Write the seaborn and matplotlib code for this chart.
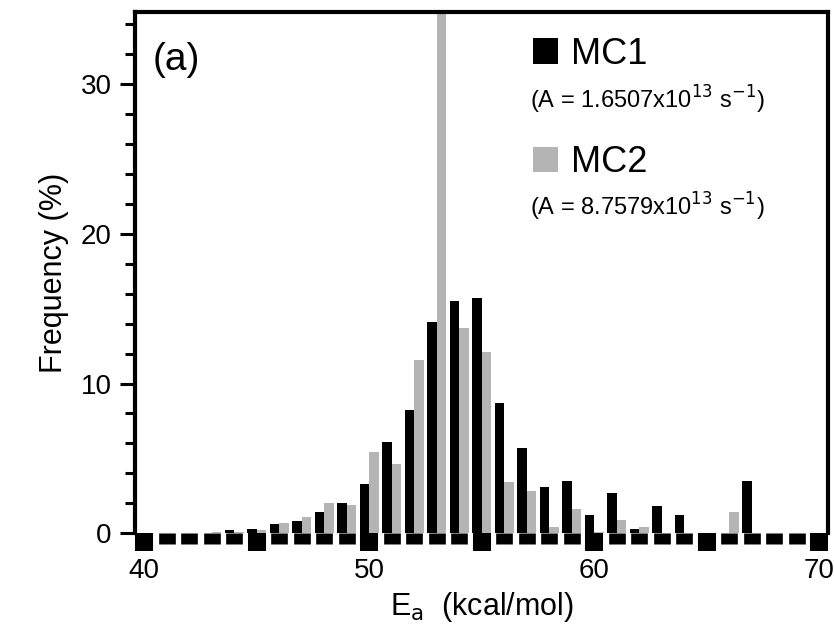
import numpy as np
import pandas as pd
import matplotlib
matplotlib.use("Agg")
import matplotlib.pyplot as plt
import matplotlib.ticker as mticker
from matplotlib.patches import Patch
import seaborn as sns

sns.set_theme(style="ticks")
plt.rcParams['font.family'] = ['Liberation Sans', 'DejaVu Sans']
plt.rcParams['text.color'] = 'black'
plt.rcParams['axes.labelcolor'] = 'black'
plt.rcParams['xtick.color'] = 'black'
plt.rcParams['ytick.color'] = 'black'

# activation energy bins (kcal/mol) and frequency (%) of each run
energy = list(range(40, 71))
mc1 = [0, 0, 0, 0, 0.2, 0.3, 0.6, 0.8, 1.4, 2.0, 3.3, 6.1, 8.2, 14.1, 15.5, 15.7,
       8.7, 5.7, 3.1, 3.5, 1.2, 2.7, 0.3, 1.8, 1.2, 0, 0, 3.5, 0, 0, 0]
mc2 = [0, 0, 0, 0.1, 0.1, 0.2, 0.7, 1.1, 2.0, 1.9, 5.4, 4.6, 11.6, 36.0, 13.7, 12.1,
       3.4, 2.8, 0.4, 1.6, 0.1, 0.9, 0.4, 0, 0, 0, 1.4, 0, 0, 0, 0]
runs = ['MC1', 'MC2']
run_labels = [r'(A = 1.6507x10$^{13}$ s$^{-1}$)', r'(A = 8.7579x10$^{13}$ s$^{-1}$)']
colors = ['black', '#b4b4b4']

df = pd.DataFrame({'E': energy * 2,
                   'freq': mc1 + mc2,
                   'run': [runs[0]] * len(energy) + [runs[1]] * len(energy)})

fig = plt.figure(figsize=(8.34, 6.44), dpi=100)
ax = fig.add_axes([0.162, 0.172, 0.831, 0.809])

sns.barplot(data=df, x='E', y='freq', hue='run', native_scale=True,
            palette=colors, width=0.84, gap=0, errorbar=None, legend=False,
            saturation=1, linewidth=0, ax=ax)

ax.set_xlim(39.6, 70.4)
ax.set_ylim(0, 34.8)

# axis frame
for side in ['left', 'top', 'right']:
    ax.spines[side].set_linewidth(3)
    ax.spines[side].set_color('black')
ax.spines['bottom'].set_visible(False)

ax.xaxis.set_major_locator(mticker.MultipleLocator(5))
ax.xaxis.set_minor_locator(mticker.MultipleLocator(1))
ax.xaxis.set_major_formatter(mticker.FuncFormatter(
    lambda v, p: f'{int(round(v))}' if round(v) % 10 == 0 else ''))
ax.yaxis.set_major_locator(mticker.MultipleLocator(10))
ax.yaxis.set_minor_locator(mticker.MultipleLocator(2))

ax.tick_params(axis='x', which='major', direction='out', length=13, width=13,
               labelsize=20, pad=5)
ax.tick_params(axis='x', which='minor', direction='out', length=8, width=12)
ax.tick_params(axis='y', which='major', direction='out', length=11, width=2.2,
               labelsize=20, pad=6)
ax.tick_params(axis='y', which='minor', direction='out', length=7, width=2.2)

ax.set_xlabel(r'E$_\mathrm{a}$  (kcal/mol)', fontsize=22, labelpad=4)
ax.set_ylabel('Frequency (%)', fontsize=22, labelpad=8)

ax.text(0.025, 0.908, '(a)', transform=ax.transAxes, fontsize=28,
        va='center', ha='left')

handles = [Patch(facecolor=c, edgecolor='none') for c in colors]
ax.legend(handles, runs, loc='upper left', bbox_to_anchor=(0.543, 0.995),
          frameon=False, fontsize=26, labelspacing=2.03, handlelength=0.7,
          handleheight=0.7, handletextpad=0.35, borderaxespad=0.2)
ax.text(0.57, 0.831, run_labels[0], transform=ax.transAxes, fontsize=17,
        va='center', ha='left')
ax.text(0.57, 0.626, run_labels[1], transform=ax.transAxes, fontsize=17,
        va='center', ha='left')

fig.savefig('out.png', dpi=100)
